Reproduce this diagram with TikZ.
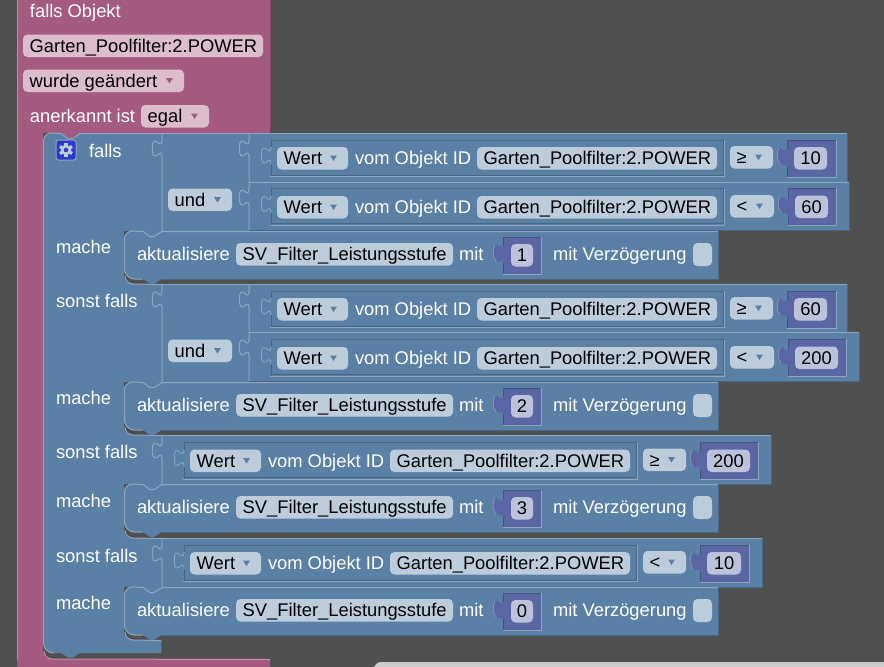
\documentclass[tikz,border=0pt]{standalone}
\usepackage{fontspec}
\setmainfont{Liberation Sans}
\definecolor{bgc}{HTML}{505050}
\definecolor{bl}{HTML}{5B80A5}
\definecolor{blL}{HTML}{8CA6C0}
\definecolor{blD}{HTML}{496684}
\definecolor{blF}{HTML}{BDCCDB}
\definecolor{pk}{HTML}{A55B80}
\definecolor{pkL}{HTML}{C08CA6}
\definecolor{pkD}{HTML}{844966}
\definecolor{pkF}{HTML}{DBBDCC}
\definecolor{pu}{HTML}{5B67A5}
\definecolor{puL}{HTML}{8C95C0}
\definecolor{puD}{HTML}{495284}
\definecolor{puF}{HTML}{BDC2DB}
\definecolor{gearb}{HTML}{2A3BCE}
\newcount\nodecnt
\newcommand\stp{\global\advance\nodecnt by 1\relax}
\tikzset{
  x=1pt,y=-1pt,
  txt/.style={anchor=base west,inner sep=0pt,outer sep=0pt,yshift=-.6pt,font=\fontsize{18.35}{20}\selectfont},
  wtxt/.style={txt,text=white},
  ktxt/.style={txt,text=black},
  ctxt/.style={txt,anchor=base,text=black},
  lite/.style={draw=blL,line width=1pt},
  dark/.style={draw=blD,line width=1pt},
  slotl/.style={draw=blL,line width=.8pt},
  slotd/.style={draw=blD,line width=.8pt},
  fieldbox/.style={rounded corners=4.5pt},
}
% text
\newcommand\wlabel[3]{\stp\node[wtxt] (n\the\nodecnt) at (#1,#2) {#3};}
% editable field: colour, x1, y top, x2, text
\newcommand\fld[5]{%
  \fill[#1,fieldbox] (#2,#3) rectangle (#4,#3+22.5);
  \stp\node[ktxt] (n\the\nodecnt) at (#2+6.7,#3+17) {#5};}
% dropdown triangle
\newcommand\tri[3]{\fill[#1] (#2-3.5,#3-2.5) -- (#2+3.5,#3-2.5) -- (#2,#3+3) -- cycle;}
% dropdown: colour, triangle colour, x1, y, x2, text
\newcommand\ddn[6]{\fld{#1}{#3}{#4}{#5}{#6}\tri{#2}{#5-14.5}{#4+11}}
% puzzle tab, local coordinates
\newcommand\tabcurve{(0,7) .. controls (0,19) and (-9.6,-2) .. (-9.6,15) .. controls (-9.6,33.6) and (0,12) .. (0,24)}
% purple number block: x1,y top,x2,field x1,field x2,text
\newcommand\numblk[6]{%
  \begin{scope}[shift={(#1,#2)}]
    \fill[pu] (1,10) -- (-3,10) .. controls (-5,8) and (-7,7.5) .. (-8,8) .. controls (-10.5,12) and (-10.5,20) .. (-7,24) .. controls (-5,25.5) and (-2,24) .. (1,25.5) -- cycle;
    \draw[puL,line width=.7pt] (-8,8) .. controls (-10.5,12) and (-10.5,20) .. (-7,24);
  \end{scope}
  \fill[pu] (#1,#2) rectangle (#3,#2+36.5);
  \draw[puD,line width=1pt] (#1,#2+9) -- (#1,#2) -- (#3,#2);
  \draw[puD,line width=1pt] (#1,#2+36.5) -- (#1,#2+26);
  \draw[blL,line width=1pt] (#1-.3,#2+37) -- (#3+.5,#2+37) -- (#3+.5,#2-.3);
  \fill[puF,fieldbox] (#4,#2+7) rectangle (#5,#2+29.5);
  \stp\node[ctxt] (n\the\nodecnt) at ({(#4+#5)/2},#2+24) {#6};}
% comparison row, in the coordinates of the first row; shifted by dx
\newcommand\rowgeom[6]{\def\rDx{#1}\def\rTop{#2}\def\rBot{#3}\def\rRight{#4}\def\rFr{#5}\def\rFi{#6}}
\newcommand\rowdraw[6]{%
  \begin{scope}[shift={(\rDx,0)}]
    \fill[bl] (249,\rTop) rectangle (\rRight,\rBot);
    \begin{scope}[shift={(249,\rTop)}]
      \fill[bl] \tabcurve -- cycle;
      \draw[lite] (0,0) -- \tabcurve -- (0,\rBot-\rTop);
    \end{scope}
    \draw[lite] (249,\rTop) -- (\rRight,\rTop);
    \draw[dark] (\rRight,\rTop) -- (\rRight,\rBot) -- (249,\rBot);
    % inner value block
    \draw[slotd] (271,\rFr+7) -- (271,\rFr) -- (724,\rFr);
    \draw[slotd] (271,\rFr+24) -- (271,\rFr+36);
    \draw[slotl] (270,\rFr+36.5) -- (724.5,\rFr+36.5) -- (724.5,\rFr);
    \draw[slotd] (272,\rFr+35.3) -- (723.5,\rFr+35.3) -- (723.5,\rFr+1);
    \begin{scope}[shift={(271,\rFr)}]
      \fill[bl] \tabcurve -- cycle;
      \draw[slotl] \tabcurve;
    \end{scope}
    \ddn{blF}{bl}{277}{\rFi}{348}{Wert}
    \wlabel{355}{\rFi+17}{vom Objekt ID}
    \fld{blF}{477}{\rFi}{717}{Garten\_Poolfilter:2.POWER}
    \ddn{blF}{bl}{730}{\rFi-1}{#2}{#1}
    \numblk{#3}{\rFr}{#4}{#3+7}{#5}{#6}
  \end{scope}}
% statement block
\newcommand\doblk[2]{%
  \fill[bl] (143,#1) -- (150,#1+5) -- (154,#1+5) -- (162,#1) -- cycle;
  \path[fill=bl] (124,#1+8) arc[start angle=180,end angle=270,radius=8] -- (143,#1) -- (150,#1+5) -- (154,#1+5) -- (162,#1) -- (718,#1) -- (718,#1+48) -- (162,#1+48) -- (154,#1+53) -- (150,#1+53) -- (143,#1+48) -- (134,#1+48) arc[start angle=90,end angle=180,radius=10] -- cycle;
  \draw[lite] (124.5,#1+38) arc[start angle=180,end angle=90,radius=10] -- (143,#1+48);
  \draw[lite] (124.5,#1+38) -- (124.5,#1+8) arc[start angle=180,end angle=270,radius=8] -- (143,#1+.5) -- (150,#1+5.5) -- (154,#1+5.5) -- (162,#1+.5) -- (718,#1+.5);
  \draw[dark] (718,#1) -- (718,#1+48) -- (162,#1+48);
  \wlabel{137}{#1+29}{aktualisiere}
  \fld{blF}{236}{#1+12}{453}{SV\_Filter\_Leistungsstufe}
  \wlabel{459}{#1+29}{mit}
  \numblk{503}{#1+6}{541}{511}{533}{#2}
  \wlabel{553}{#1+29}{mit Verzögerung}
  \fill[blF,fieldbox] (693,#1+12) rectangle (712,#1+35);}
\begin{document}
\begin{tikzpicture}
\useasboundingbox (0,0) rectangle (884,667);
\fill[bgc] (0,0) rectangle (884,667);
% grey strip at the bottom
\fill[gray!40!white] (374,670) -- (374,669) arc[start angle=180,end angle=270,radius=7] -- (884,662) -- (884,670) -- cycle;
% pink trigger block
\fill[pk] (17,-5) -- (270,-5) -- (270,133) -- (80,133) -- (73,138) -- (68,138) -- (61,133) -- (43,133) -- (43,651) arc[start angle=180,end angle=90,radius=8] -- (270,659) -- (270,672) -- (25,672) arc[start angle=90,end angle=180,radius=8] -- cycle;
\draw[pkL,line width=1pt] (17.5,-5) -- (17.5,660);
\draw[pkL,line width=1pt] (44,651) arc[start angle=180,end angle=90,radius=8] -- (270,659.5);
\draw[pkD,line width=1pt] (270,-5) -- (270,133);
\wlabel{30}{17}{falls Objekt}
\fld{pkF}{23}{34.5}{263}{Garten\_Poolfilter:2.POWER}
\ddn{pkF}{pk}{23}{69.5}{184}{wurde geändert}
\wlabel{30}{122}{anerkannt ist}
\ddn{pkF}{pk}{141}{105}{209}{egal}
% blue if block body
\path[fill=bl] (43,141) arc[start angle=180,end angle=270,radius=8] -- (61,133) -- (68,138) -- (73,138) -- (80,133) -- (162,133) -- (162,231) -- (124,231) -- (124,276) arc[start angle=180,end angle=90,radius=8] -- (162,284) -- (162,382) -- (124,382) -- (124,427) arc[start angle=180,end angle=90,radius=8] -- (162,435) -- (162,484) -- (124,484) -- (124,530) arc[start angle=180,end angle=90,radius=8] -- (162,538) -- (162,587) -- (124,587) -- (124,632) arc[start angle=180,end angle=90,radius=8] -- (161,640) -- (161,653) -- (80,653) -- (73,657.5) -- (68,657.5) -- (61,653) -- (53,653) arc[start angle=90,end angle=180,radius=10] -- cycle;
\draw[lite] (43.5,643) -- (43.5,141) arc[start angle=180,end angle=270,radius=8] -- (61,133.5) -- (68,138.5) -- (73,138.5) -- (80,133.5) -- (162,133.5);
\draw[lite] (43.5,643) arc[start angle=180,end angle=90,radius=10];
\draw[lite] (125,632) arc[start angle=180,end angle=90,radius=8] -- (161,640.5);
\draw[dark] (161,640) -- (161,653);
% and blocks
\fill[bl] (162,133) rectangle (249,231);
\begin{scope}[shift={(162,133)}]
  \fill[bl] \tabcurve -- cycle;
  \draw[lite] (0,0) -- \tabcurve -- (0,98);
\end{scope}
\fill[bl] (162,284) rectangle (249,382);
\begin{scope}[shift={(162,284)}]
  \fill[bl] \tabcurve -- cycle;
  \draw[lite] (0,0) -- \tabcurve -- (0,98);
\end{scope}
\draw[lite] (162,133.5) -- (249,133.5);
\draw[lite] (162,284.5) -- (249,284.5);
\draw[lite] (125,427) arc[start angle=180,end angle=90,radius=8] -- (162,435.5);
\draw[lite] (125,276) arc[start angle=180,end angle=90,radius=8] -- (162,284.5);
\draw[lite] (125,530) arc[start angle=180,end angle=90,radius=8] -- (162,538.5);
\ddn{blF}{bl}{168}{188.5}{232}{und}
\ddn{blF}{bl}{168}{339.5}{232}{und}
% rows
\rowgeom{0}{133}{182}{847}{140}{147}\rowdraw{≥}{773}{787}{836}{827}{10}
\rowgeom{0}{182}{230}{849}{188.5}{196}\rowdraw{<}{774}{788}{836}{828}{60}
\rowgeom{0}{284}{332}{847}{291}{298}\rowdraw{≥}{773}{787}{836}{827}{60}
\rowgeom{0}{332}{381}{859}{339.5}{347}\rowdraw{<}{774}{788}{846}{838}{200}
\rowgeom{-87}{435}{484}{858}{442.5}{449.5}\rowdraw{≥}{773}{787}{845}{837}{200}
\rowgeom{-87}{538}{587}{849}{545}{552}\rowdraw{<}{773}{787}{836}{828}{10}
% statements
\doblk{231}{1}
\doblk{382}{2}
\doblk{484}{3}
\doblk{587}{0}
% gear button
\fill[blL,rounded corners=3pt] (55.5,139.5) rectangle (76.5,160.5);
\fill[gearb,rounded corners=2.5pt] (56.5,140.5) rectangle (75.5,159.5);
\begin{scope}[shift={(66,150)}]
  \foreach \a in {0,60,...,300}{\fill[blF,rotate=\a] (-1.6,-7) rectangle (1.6,-3);}
  \fill[blF] (0,0) circle[radius=5.3];
  \fill[gearb] (0,0) circle[radius=2.3];
\end{scope}
% labels
\wlabel{89}{156.5}{falls}
\wlabel{56}{252.5}{mache}
\wlabel{56}{307}{sonst falls}
\wlabel{56}{403.5}{mache}
\wlabel{56}{458}{sonst falls}
\wlabel{56}{506.5}{mache}
\wlabel{56}{561.5}{sonst falls}
\wlabel{56}{608.5}{mache}
\end{tikzpicture}
\end{document}
